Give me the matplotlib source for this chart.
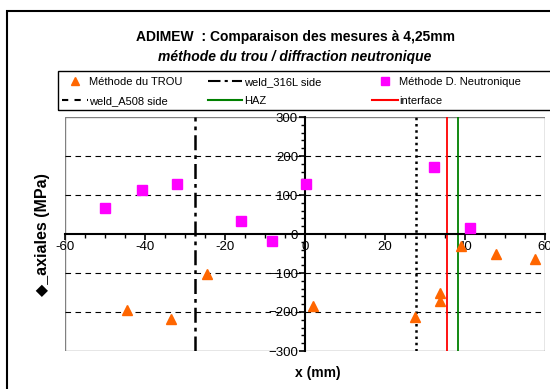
import matplotlib
matplotlib.use("Agg")
import matplotlib.pyplot as plt
from matplotlib.lines import Line2D
from matplotlib.patches import Rectangle
from matplotlib.ticker import MultipleLocator

plt.rcParams['font.family'] = ['Liberation Sans', 'DejaVu Sans']

# Méthode du trou (triangles)
trou_x = [-44.5, -33.5, -24.5, 2.0, 27.5, 33.7, 33.7, 39.0, 47.7, 57.4]
trou_y = [-195, -217, -103, -184, -212, -151, -172, -31, -51, -65]

# Méthode D. Neutronique (carrés)
neutron_x = [-50, -40.8, -32.1, -16, -8.2, 0.2, 32.2, 41.2]
neutron_y = [66, 113, 127, 33, -18, 129, 172, 15]

# positions des lignes verticales
weld_316L = -27.5
weld_A508 = 27.7
interface = 35.5
haz = 38.3

W, H = 550, 389
fig = plt.figure(figsize=(W / 100, H / 100), dpi=100)
ax = fig.add_axes([65 / W, (H - 351) / H, 480 / W, 234 / H])

ax.plot(trou_x, trou_y, linestyle='none', marker='^', color='#FF6600', markersize=7, zorder=5)
ax.plot(neutron_x, neutron_y, linestyle='none', marker='s', color='#FF00FF', markersize=7, zorder=5)

ax.axvline(weld_316L, color='black', linestyle=(0, (6, 2, 1.5, 2)), linewidth=1.8)
ax.axvline(weld_A508, color='black', linestyle=(0, (1, 1.5)), linewidth=1.8)
ax.axvline(interface, color='red', linewidth=1.3)
ax.axvline(haz, color='green', linewidth=1.3)

for yv in [-200, -100, 100, 200]:
    ax.axhline(yv, color='black', linestyle=(0, (5, 4)), linewidth=0.8, zorder=1)

ax.set_xlim(-60, 60)
ax.set_ylim(-300, 300)

ax.spines['left'].set_position(('data', 0))
ax.spines['bottom'].set_position(('data', 0))
ax.spines['left'].set_linewidth(1.5)
ax.spines['bottom'].set_linewidth(1.5)
ax.spines['top'].set_visible(False)
ax.spines['right'].set_visible(False)
# cadre gris de la zone de tracé
ax.add_patch(Rectangle((0, 0), 1, 1, transform=ax.transAxes, fill=False,
                       edgecolor='#808080', linewidth=1.0, zorder=0))

ax.xaxis.set_major_locator(MultipleLocator(20))
ax.xaxis.set_minor_locator(MultipleLocator(5))
ax.yaxis.set_major_locator(MultipleLocator(100))
ax.yaxis.set_minor_locator(MultipleLocator(20))
ax.tick_params(axis='both', which='major', direction='out', length=4, width=1.2,
               labelsize=9.5, pad=1)
ax.tick_params(axis='both', which='minor', direction='out', length=3, width=1.0)
ax.set_xticks([-60, -40, -20, 0, 20, 40, 60])
ax.set_xticklabels(['-60', '-40', '-20', '0', '20', '40', '60'])
for lab in ax.get_xticklabels():
    lab.set_clip_on(False)

# cadre extérieur
fig.patches.append(Rectangle((7 / W, -0.1), 1.2, (H - 11) / H + 0.1, transform=fig.transFigure,
                             fill=False, edgecolor='black', linewidth=1.5))

fig.text(295 / W, 1 - 37 / H, 'ADIMEW  : Comparaison des mesures à 4,25mm',
         ha='center', va='center', fontsize=10, fontweight='bold')
fig.text(295 / W, 1 - 57 / H, 'méthode du trou / diffraction neutronique',
         ha='center', va='center', fontsize=10, fontweight='bold', style='italic')

fig.text(43 / W, 1 - 235 / H, '◆_axiales (MPa)', rotation=90, ha='center', va='center',
         fontsize=11.5, fontweight='bold', family=['Liberation Sans', 'DejaVu Sans'])
fig.text(318 / W, 1 - 373 / H, 'x (mm)', ha='center', va='center',
         fontsize=10, fontweight='bold')

# légende : cadre + trois colonnes de largeur égale
fig.patches.append(Rectangle((58 / W, (H - 110) / H), 1.0, 39 / H, transform=fig.transFigure,
                             fill=False, edgecolor='black', linewidth=1.0))

columns = [
    (62, 2.3, [Line2D([], [], linestyle='none', marker='^', color='#FF6600', markersize=6),
               Line2D([], [], color='black', linestyle=(0, (3, 3)), linewidth=1.5)],
     ['Méthode du TROU', 'weld_A508 side']),
    (208, 3.1, [Line2D([], [], color='black', linestyle=(0, (6, 2, 1.5, 2)), linewidth=1.5),
                Line2D([], [], color='green', linewidth=1.5)],
     ['weld_316L side', 'HAZ']),
    (372, 2.3, [Line2D([], [], linestyle='none', marker='s', color='#FF00FF', markersize=6),
                Line2D([], [], color='red', linewidth=1.5)],
     ['Méthode D. Neutronique', 'interface']),
]
for x0, hl, hs, ls in columns:
    leg = fig.legend(hs, ls, loc='upper left', bbox_to_anchor=(x0 / W, 1 - 77 / H),
                     frameon=False, fontsize=8, borderpad=0, borderaxespad=0,
                     handlelength=hl, handletextpad=0.15, labelspacing=0.8)

fig.savefig('out.png', dpi=100)
